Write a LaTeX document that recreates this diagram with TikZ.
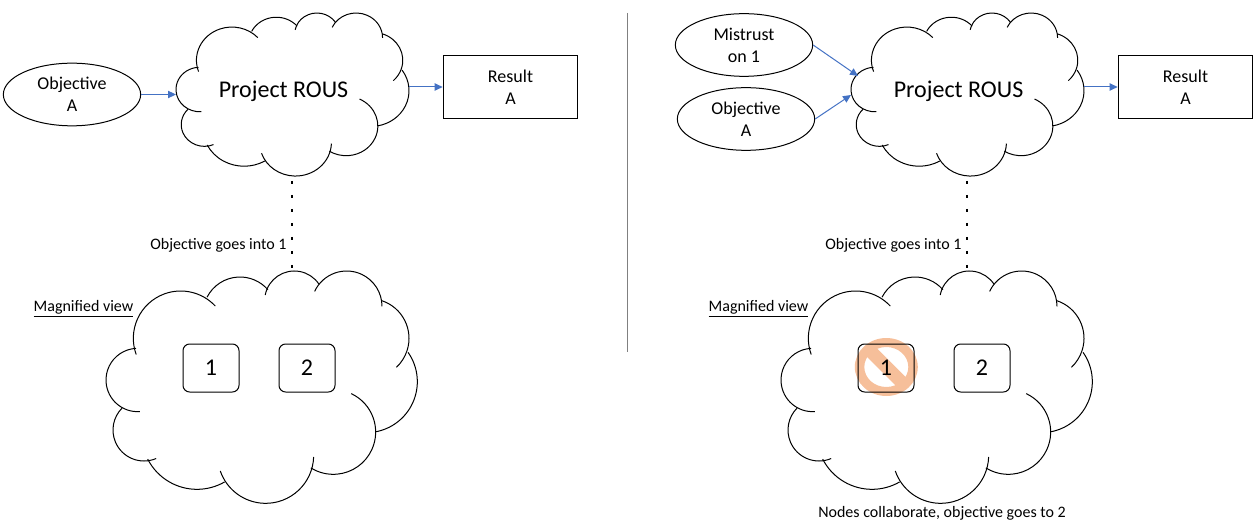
\documentclass[tikz,border=0pt]{standalone}
\usepackage{fontspec}
\setmainfont{Carlito}
\usetikzlibrary{arrows.meta,shapes.geometric}
\definecolor{arrowblue}{HTML}{4472C4}
\definecolor{banorange}{HTML}{F6BF9A}
\tikzset{
	oval/.style={draw,ellipse,minimum width=103pt,minimum height=47pt,inner sep=0pt,align=center,font=\fontsize{13.5}{16.5}\selectfont},
	resultbox/.style={draw,minimum width=101pt,minimum height=47pt,inner sep=0pt,align=center,font=\fontsize{13.5}{16.5}\selectfont},
	memberbox/.style={draw,rounded corners=5pt,minimum width=42pt,minimum height=36pt,inner sep=0pt,font=\fontsize{18}{18}\selectfont},
	note/.style={inner sep=0pt,font=\fontsize{12}{14}\selectfont},
	title/.style={inner sep=0pt,font=\fontsize{18}{20}\selectfont},
	link/.style={-{Triangle[length=6pt,width=5.5pt]},arrowblue},
	dots/.style={line width=2pt,dash pattern=on 2pt off 8.5pt},
	cloudshape/.pic={
		\foreach \cx/\cy/\rad/\from/\to in {242/235/142/160/317, 420/162/111/207/319, 583/122/89/191/326,
			740/139/106/205/360, 808/235/119/288/407, 799/365/153/-35/80, 700/516/127/-65/122,
			497/586/144/2/161, 291/522/166/60/153, 132/510/93/67/225, 113/360/95/86/267}
			\draw ([shift={(\cx,\cy)}]\from:\rad) arc (\from:\to:\rad);
	},
}

\begin{document}
\begin{tikzpicture}[x=.75pt,y=-.75pt,line width=.75pt]
	\useasboundingbox (0,0) rectangle (1260,527);

	% left panel
	\pic[shift={(171.5,5.3)},xscale=.2495,yscale=.2339] at (0,0) {cloudshape};
	\pic[shift={(100,260)},scale=1/3] at (0,0) {cloudshape};
	\node[oval] (objA) at (72,94.5) {Objective\\A};
	\node[title] (projA) at (283.5,91) {Project ROUS};
	\node[resultbox] (resA) at (510.5,87) {Result\\A};
	\node[memberbox] (oneA) at (211,368) {1};
	\node[memberbox] (twoA) at (307,368) {2};
	\node[note] (magA) at (83.5,309) {\underline{Magnified view}};
	\node[note,anchor=east] (goesA) at (287,245) {Objective goes into 1};
	\coordinate (inA) at (176,94.5);
	\coordinate (outA) at (409,87);
	\coordinate (topA) at (292,181);
	\coordinate (lowA) at (292,268);
	\draw[link] (objA) -- (inA);
	\draw[link] (outA) -- (resA);
	\draw[dots] (topA) -- (lowA);

	% divider
	\coordinate (divtop) at (627,13);
	\coordinate (divlow) at (627,352);
	\draw[gray,line width=.6pt] (divtop) -- (divlow);

	% right panel
	\pic[shift={(846.5,5.3)},xscale=.2495,yscale=.2339] at (0,0) {cloudshape};
	\pic[shift={(775,260)},scale=1/3] at (0,0) {cloudshape};
	\node[oval] (misB) at (744,45) {Mistrust\\on 1};
	\node[oval] (objB) at (746,119) {Objective\\A};
	\node[title] (projB) at (958.5,91) {Project ROUS};
	\node[resultbox] (resB) at (1185.5,87) {Result\\A};
	\node[memberbox] (oneB) at (886,368) {1};
	\node[memberbox] (twoB) at (982,368) {2};
	\node[note] (magB) at (758.5,309) {\underline{Magnified view}};
	\node[note,anchor=east] (goesB) at (962,245) {Objective goes into 1};
	\node[note] (endB) at (942,513) {Nodes collaborate, objective goes to 2};
	\coordinate (inB) at (858,76);
	\coordinate (inC) at (851,95);
	\coordinate (outB) at (1084,87);
	\coordinate (topB) at (967,181);
	\coordinate (lowB) at (967,268);
	\draw[link] (misB.east) -- (inB);
	\draw[link] (objB.east) -- (inC);
	\draw[link] (outB) -- (resB);
	\draw[dots] (topB) -- (lowB);

	% no symbol over the first member
	\begin{scope}[blend mode=multiply]
	\begin{scope}[shift={(886.3,367)},transparency group]
		\fill[banorange,even odd rule] (0,0) ellipse [x radius=31.5,y radius=29] (0,0) ellipse [x radius=22,y radius=20];
		\fill[banorange,rotate=-45] (-24,-6.5) rectangle (24,6.5);
	\end{scope}
	\end{scope}
\end{tikzpicture}
\end{document}
